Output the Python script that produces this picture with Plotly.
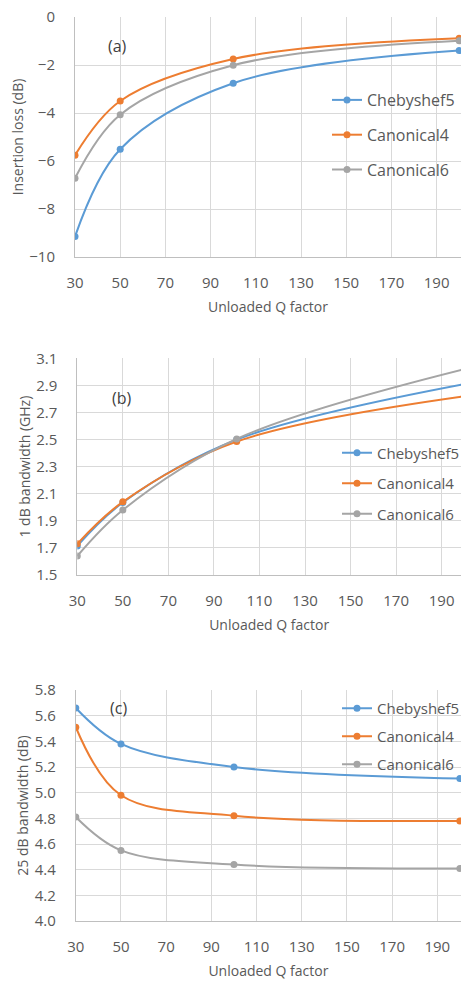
import plotly.graph_objects as go

W, H = 461, 981

q = [30, 50, 100, 200]
series_names = ["Chebyshef5", "Canonical4", "Canonical6"]
colors = ["#5B9BD5", "#ED7D31", "#A5A5A5"]

# (a) Insertion loss (dB)
il_cheb5 = [-9.15, -5.51, -2.76, -1.40]
il_can4 = [-5.76, -3.50, -1.75, -0.89]
il_can6 = [-6.72, -4.07, -2.01, -0.99]

# (b) 1 dB bandwidth (GHz)
bw1_cheb5 = [1.715, 2.035, 2.50, 2.91]
bw1_can4 = [1.73, 2.04, 2.485, 2.82]
bw1_can6 = [1.64, 1.98, 2.505, 3.02]

# (c) 25 dB bandwidth
bw25_cheb5 = [5.66, 5.38, 5.20, 5.11]
bw25_can4 = [5.51, 4.98, 4.82, 4.78]
bw25_can6 = [4.81, 4.55, 4.44, 4.41]

x_ticks = [30, 50, 70, 90, 110, 130, 150, 170, 190]

panels = [
    dict(data=[il_cheb5, il_can4, il_can6], yrange=[-10, 0], dtick=2, fmt="d",
         ytitle="Insertion loss (dB)", label="(a)",
         left=75, top=17, bottom=257, xend=200.8, label_xy=(49, -1.2),
         leg=dict(x=327, y=83, gap=11, size=16)),
    dict(data=[bw1_cheb5, bw1_can4, bw1_can6], yrange=[1.5, 3.1], dtick=0.2, fmt=".1f",
         ytitle="1 dB bandwidth (GHz)", label="(b)",
         left=77.3, top=358.3, bottom=575, xend=198.5, label_xy=(49.6, 2.807),
         leg=dict(x=337, y=436.5, gap=8, size=15)),
    dict(data=[bw25_cheb5, bw25_can4, bw25_can6], yrange=[4.0, 5.8], dtick=0.2, fmt=".1f",
         ytitle="25 dB bandwidth (dB)", label="(c)",
         left=75.8, top=690, bottom=921, xend=200.5, label_xy=(49.1, 5.66),
         leg=dict(x=337, y=692, gap=5.5, size=15)),
]

FONT = "Open Sans, Noto Sans, sans-serif"
TXT = "#595959"
GRID = "#d9d9d9"
AXL = "#bfbfbf"

fig = go.Figure()
layout = dict(width=W, height=H, margin=dict(l=0, r=0, t=0, b=0, autoexpand=False),
              paper_bgcolor="white", plot_bgcolor="white",
              font=dict(family=FONT, color=TXT), annotations=[])

for i, p in enumerate(panels):
    n = "" if i == 0 else str(i + 1)
    xa, ya = "x" + n, "y" + n
    legname = "legend" + n
    for j, (name, col) in enumerate(zip(series_names, colors)):
        fig.add_trace(go.Scatter(
            x=q, y=p["data"][j], name=name, mode="lines+markers",
            line=dict(color=col, width=2, shape="spline", smoothing=1.0),
            marker=dict(color=col, size=7),
            xaxis=xa, yaxis=ya, legend=legname, legendgroup=f"{i}-{j}",
        ))
    layout["xaxis" + n] = dict(
        domain=[p["left"] / W, 1.0], range=[30, p["xend"]], anchor=ya,
        tickmode="array", tickvals=x_ticks,
        showgrid=True, gridcolor=GRID, gridwidth=1,
        showline=True, linecolor=AXL, linewidth=1,
        ticks="outside", ticklen=12, tickcolor="rgba(0,0,0,0)",
        tickfont=dict(size=15, color=TXT),
        title=dict(text="Unloaded Q factor", font=dict(size=14, color=TXT), standoff=11),
        zeroline=False, fixedrange=True,
    )
    layout["yaxis" + n] = dict(
        domain=[1 - p["bottom"] / H, 1 - p["top"] / H], range=p["yrange"], anchor=xa,
        dtick=p["dtick"], tick0=p["yrange"][0], tickformat=p["fmt"],
        showgrid=True, gridcolor=GRID, gridwidth=1,
        showline=True, linecolor=AXL, linewidth=1,
        ticks="outside", ticklen=16, tickcolor="rgba(0,0,0,0)",
        tickfont=dict(size=15, color=TXT),
        title=dict(text=p["ytitle"], font=dict(size=14, color=TXT), standoff=2),
        zeroline=False, fixedrange=True,
    )
    lg = p["leg"]
    layout[legname] = dict(
        x=lg["x"] / W, y=1 - lg["y"] / H, xanchor="left", yanchor="top",
        xref="paper", yref="paper", bgcolor="rgba(0,0,0,0)",
        font=dict(size=lg["size"], color=TXT, family=FONT),
        tracegroupgap=lg["gap"], itemwidth=30,
    )
    layout["annotations"].append(dict(
        x=p["label_xy"][0], y=p["label_xy"][1], xref=xa, yref=ya,
        text=p["label"], showarrow=False,
        font=dict(size=16, color="#404040", family=FONT),
    ))

fig.update_layout(**layout)
fig.write_html("out.html")
